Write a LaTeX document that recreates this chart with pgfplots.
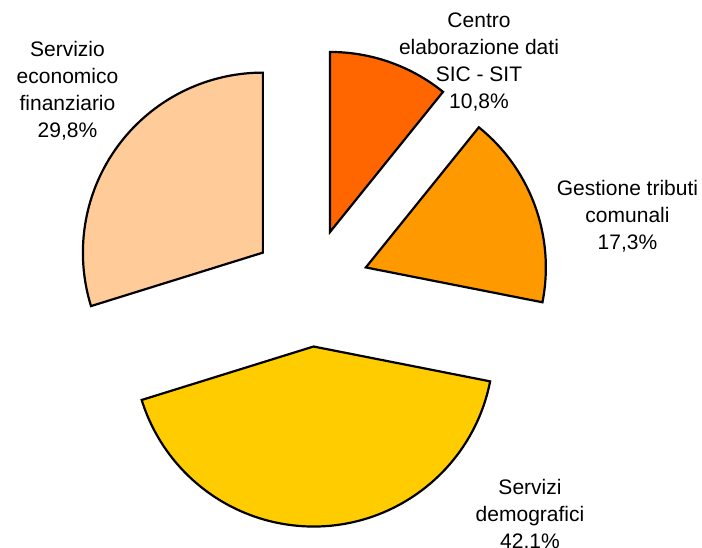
\documentclass[border=0pt]{standalone}
\usepackage{pgfplots}
\pgfplotsset{compat=1.18}
\usepackage{fontspec}
\setmainfont{Liberation Sans}

\definecolor{sliceA}{HTML}{FF6600}
\definecolor{sliceB}{HTML}{FF9900}
\definecolor{sliceC}{HTML}{FFCC00}
\definecolor{sliceD}{HTML}{FFCC99}

% shares in percent, clockwise from 12 o'clock
\def\vA{10.8}
\def\vB{17.3}
\def\vC{42.1}
\def\vD{29.8}
\def\cx{310.4}
\def\cy{259.4}
\def\R{180}
\def\ex{59}
\pgfmathsetmacro\aA{90}
\pgfmathsetmacro\aB{\aA-3.6*\vA}
\pgfmathsetmacro\aC{\aB-3.6*\vB}
\pgfmathsetmacro\aD{\aC-3.6*\vC}
\pgfmathsetmacro\aE{\aD-3.6*\vD}

\begin{document}
\begin{tikzpicture}
\begin{axis}[
  at={(0pt,0pt)}, anchor=south west,
  x=1pt, y=1pt, scale only axis,
  xmin=0, xmax=702, ymin=0, ymax=547,
  hide axis, clip=false,
]
\tikzset{slice/.style={draw=black, line width=2.2pt, line join=miter}}
\filldraw[slice, fill=sliceA]
  ({\cx+\ex*cos((\aA+\aB)/2)},{\cy+\ex*sin((\aA+\aB)/2)}) -- ++(\aA:\R pt)
  arc[start angle=\aA, end angle=\aB, radius=\R pt] -- cycle;
\filldraw[slice, fill=sliceB]
  ({\cx+\ex*cos((\aB+\aC)/2)},{\cy+\ex*sin((\aB+\aC)/2)}) -- ++(\aB:\R pt)
  arc[start angle=\aB, end angle=\aC, radius=\R pt] -- cycle;
\filldraw[slice, fill=sliceC]
  ({\cx+\ex*cos((\aC+\aD)/2)},{\cy+\ex*sin((\aC+\aD)/2)}) -- ++(\aC:\R pt)
  arc[start angle=\aC, end angle=\aD, radius=\R pt] -- cycle;
\filldraw[slice, fill=sliceD]
  ({\cx+\ex*cos((\aD+\aE)/2)},{\cy+\ex*sin((\aD+\aE)/2)}) -- ++(\aD:\R pt)
  arc[start angle=\aD, end angle=\aE, radius=\R pt] -- cycle;

\tikzset{lbl/.style={align=center, inner sep=0pt, font=\fontsize{21}{27}\selectfont}}
\node[lbl] at (479,485) {Centro\\elaborazione dati\\SIC - SIT\\10,8\%};
\node[lbl] at (627.5,330.5) {Gestione tributi\\comunali\\17,3\%};
\node[lbl] at (530,32) {Servizi\\demografici\\42,1\%};
\node[lbl] at (67.5,456) {Servizio\\economico\\finanziario\\29,8\%};
\end{axis}
\pgfresetboundingbox
\path[use as bounding box] (0pt,0pt) rectangle (702pt,547pt);
\end{tikzpicture}
\end{document}
